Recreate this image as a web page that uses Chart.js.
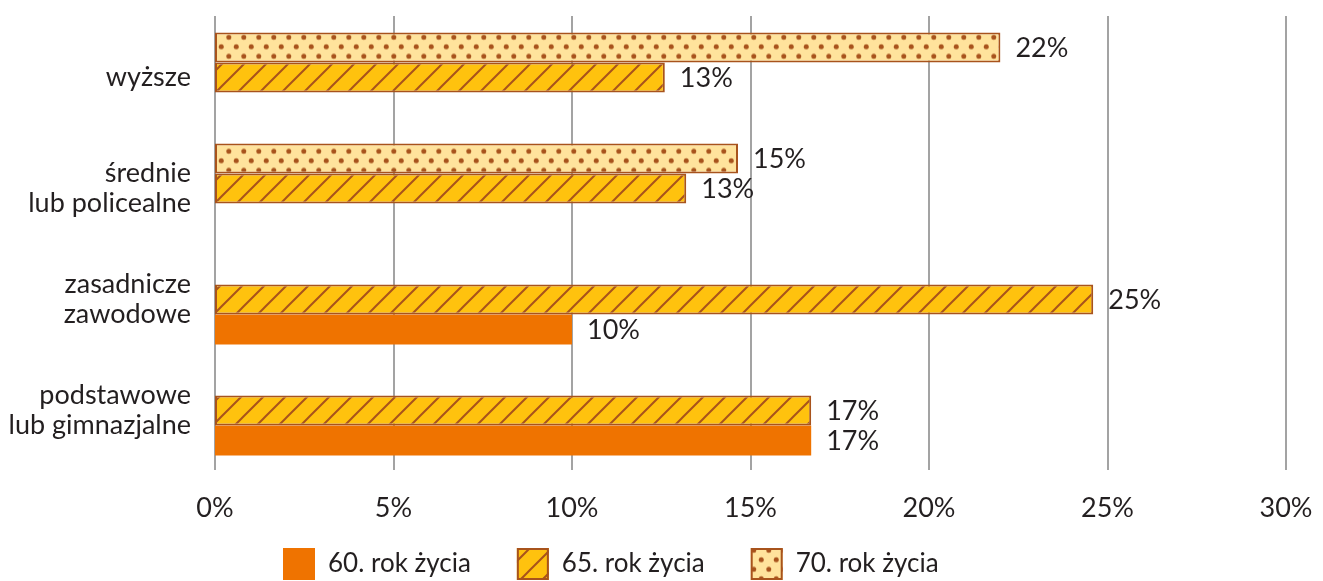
<!DOCTYPE html>
<html lang="pl">
<head>
<meta charset="utf-8">
<title>Wykształcenie a wiek</title>
<script src="https://cdn.jsdelivr.net/npm/chart.js@4.4.1/dist/chart.umd.min.js"></script>
<style>
  html, body { margin: 0; padding: 0; background: #fff; }
  #wrap { width: 1323px; height: 581px; }
</style>
</head>
<body>
<div id="wrap"><canvas id="chart" width="1323" height="581"></canvas></div>
<script>
// Data (percent)
const categories = ['wyższe', ['średnie', 'lub policealne'], ['zasadnicze', 'zawodowe'], ['podstawowe', 'lub gimnazjalne']];
const seriesLabels = ['70. rok życia', '65. rok życia', '60. rok życia'];
const age70 = [22.0, 14.65, null, null];
const age65 = [12.6, 13.2, 24.6, 16.7];
const age60 = [null, null, 10.0, 16.7];
const xTicks = [0, 5, 10, 15, 20, 25, 30];

const ORANGE = '#EF7300';
const YELLOW = '#FFC20E';
const PALE = '#FFE39C';
const BROWN = '#A8531C';
const GRID = '#A3A3A3';
const TEXT = '#231F20';
const FONT = 'Lato';

const canvas = document.getElementById('chart');
const ctx = canvas.getContext('2d');

// diagonal hatch, lines going up to the right
function hatchPattern() {
  const s = 22;
  const c = document.createElement('canvas');
  c.width = s; c.height = s;
  const g = c.getContext('2d');
  g.fillStyle = YELLOW;
  g.fillRect(0, 0, s, s);
  g.strokeStyle = BROWN;
  g.lineWidth = 2;
  g.beginPath();
  g.moveTo(-2, s + 2); g.lineTo(s + 2, -2);
  g.moveTo(-2, 2); g.lineTo(2, -2);
  g.moveTo(s - 2, s + 2); g.lineTo(s + 2, s - 2);
  g.stroke();
  return ctx.createPattern(c, 'repeat');
}

// staggered dots
function dotPattern() {
  const w = 15, h = 19;
  const c = document.createElement('canvas');
  c.width = w; c.height = h;
  const g = c.getContext('2d');
  g.fillStyle = PALE;
  g.fillRect(0, 0, w, h);
  g.fillStyle = BROWN;
  [[3.75, 4.75], [11.25, 14.25]].forEach(([x, y]) => {
    g.beginPath(); g.arc(x, y, 2.5, 0, Math.PI * 2); g.fill();
  });
  const p = ctx.createPattern(c, 'repeat');
  p.setTransform(new DOMMatrix().translate(0, 13.5));
  return p;
}

// grid lines a bit longer than the plot area
const gridPlugin = {
  id: 'longGrid',
  beforeDatasetsDraw(chart) {
    const { ctx, chartArea, scales: { x } } = chart;
    ctx.save();
    ctx.strokeStyle = GRID;
    ctx.lineWidth = 2;
    x.ticks.forEach((t, i) => {
      const px = Math.round(x.getPixelForTick(i));
      ctx.beginPath();
      ctx.moveTo(px, chartArea.top - 6);
      ctx.lineTo(px, chartArea.bottom + 4);
      ctx.stroke();
    });
    ctx.restore();
  }
};

// value labels right of the bars
const valueLabels = {
  id: 'valueLabels',
  afterDatasetsDraw(chart) {
    const { ctx } = chart;
    ctx.save();
    ctx.font = `27px ${FONT}`;
    ctx.fillStyle = TEXT;
    ctx.textBaseline = 'middle';
    chart.data.datasets.forEach((ds, di) => {
      chart.getDatasetMeta(di).data.forEach((bar, i) => {
        const v = ds.data[i];
        if (v == null) return;
        ctx.fillText(Math.round(v) + '%', bar.x + 15, bar.y + 1);
      });
    });
    ctx.restore();
  }
};

// legend in the order 60, 65, 70
const bottomLegend = {
  id: 'bottomLegend',
  afterDraw(chart) {
    const { ctx } = chart;
    let x = 283;
    const y = 548;
    ctx.save();
    ctx.font = `26px ${FONT}`;
    ctx.textBaseline = 'middle';
    [2, 1, 0].forEach(i => {
      const ds = chart.data.datasets[i];
      ctx.fillStyle = ds.backgroundColor;
      ctx.fillRect(x, y, 32, 32);
      if (ds.borderWidth) {
        ctx.strokeStyle = ds.borderColor;
        ctx.lineWidth = 2;
        ctx.strokeRect(x + 1, y + 1, 30, 30);
      }
      ctx.fillStyle = TEXT;
      ctx.fillText(ds.label, x + 45, y + 16);
      x += 45 + ctx.measureText(ds.label).width + 46;
    });
    ctx.restore();
  }
};

new Chart(ctx, {
  type: 'bar',
  data: {
    labels: categories,
    datasets: [
      { label: seriesLabels[0], data: age70, backgroundColor: dotPattern(), borderColor: BROWN, borderWidth: 2, borderSkipped: false },
      { label: seriesLabels[1], data: age65, backgroundColor: hatchPattern(), borderColor: BROWN, borderWidth: 2, borderSkipped: false },
      { label: seriesLabels[2], data: age60, backgroundColor: ORANGE, borderWidth: 0 }
    ]
  },
  options: {
    indexAxis: 'y',
    responsive: false,
    animation: false,
    categoryPercentage: 0.81,
    barPercentage: 1,
    layout: { padding: { top: 22, right: 37, left: 0, bottom: 55 } },
    plugins: {
      legend: { display: false },
      tooltip: { enabled: false }
    },
    scales: {
      x: {
        min: 0,
        max: 30,
        afterBuildTicks: s => { s.ticks = xTicks.map(v => ({ value: v })); },
        ticks: {
          callback: v => v + '%',
          font: { family: FONT, size: 27 },
          color: TEXT,
          padding: 18,
          maxRotation: 0
        },
        grid: { display: false },
        border: { display: false },
        afterFit: s => { s.height = 60; s.paddingLeft = 0; s.paddingRight = 0; }
      },
      y: {
        ticks: {
          font: { family: FONT, size: 27, lineHeight: 1.12 },
          color: TEXT,
          padding: 16
        },
        grid: { display: false },
        border: { display: false },
        afterFit: s => { s.width = 215; s.paddingTop = 0; s.paddingBottom = 0; }
      }
    }
  },
  plugins: [gridPlugin, valueLabels, bottomLegend]
});
</script>
</body>
</html>
